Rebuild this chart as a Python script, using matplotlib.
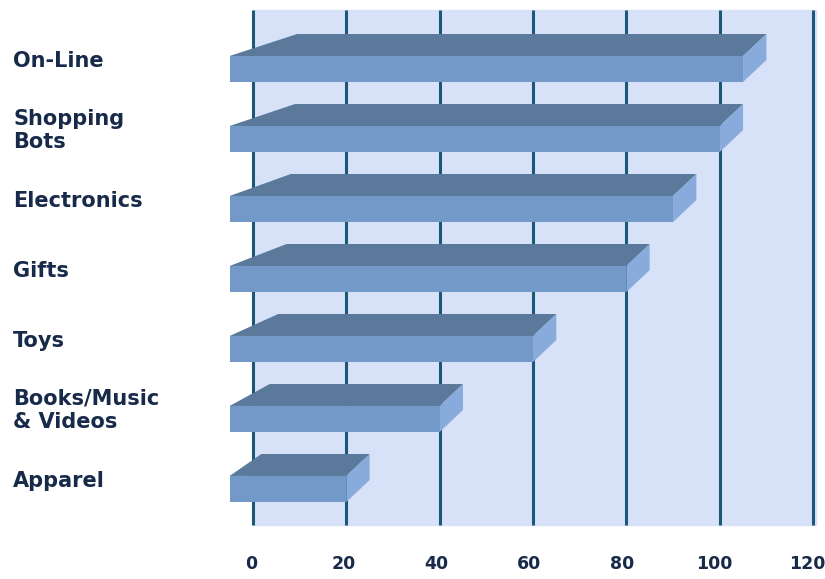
import matplotlib.pyplot as plt
from matplotlib.patches import Polygon, Rectangle

# data
categories = ['On-Line', 'Shopping\nBots', 'Electronics', 'Gifts', 'Toys',
              'Books/Music\n& Videos', 'Apparel']
values = [105, 100, 90, 80, 60, 40, 20]
ticks = [0, 20, 40, 60, 80, 100, 120]

# colours
bg = '#d7e2f8'
grid_c = '#1b5878'
front_c = '#7299c8'
top_c = '#5b7a9b'
side_c = '#89abdc'
text_c = '#182a4a'

fig = plt.figure(figsize=(8.25, 5.79), dpi=100)
ax = fig.add_axes([0, 0, 1, 1])
ax.set_xlim(-54.2, 122.56)
ax.set_ylim(7.286, -0.986)
ax.axis('off')

# back panel and grid lines
y_top, y_bot = -0.843, 6.514
ax.add_patch(Rectangle((0, y_top), 120.6, y_bot - y_top, color=bg, zorder=0))
for t in ticks:
    ax.plot([t, t], [y_top, y_bot], color=grid_c, lw=2.2, zorder=1,
            solid_capstyle='butt')
    ax.text(t - 0.3 - t / 120, 7.07, str(t), ha='center', va='center',
            fontsize=12.5, fontweight='bold', color=text_c)

# pseudo-3d bars
h = 0.186   # half height of front face
d = 0.314   # depth (vertical)
dx = 5.0    # depth (horizontal)
x0 = -5.0
for i, v in enumerate(values):
    yt = i - h
    yb = i + h
    back_left = 0.09 * v
    top = Polygon([(x0, yt), (v, yt), (v + dx, yt - d), (back_left, yt - d)],
                  closed=True, color=top_c, lw=0, zorder=3)
    side = Polygon([(v, yt), (v + dx, yt - d), (v + dx, yb - d), (v, yb)],
                   closed=True, color=side_c, lw=0, zorder=3)
    front = Polygon([(x0, yt), (v, yt), (v, yb), (x0, yb)],
                    closed=True, color=front_c, lw=0, zorder=4)
    for p in (top, side, front):
        ax.add_patch(p)

# category labels
for i, c in enumerate(categories):
    ax.text(-51.4, i - 0.12, c, ha='left', va='center', fontsize=15,
            fontweight='bold', color=text_c, linespacing=1.2)

fig.savefig('out.png', dpi=100)
